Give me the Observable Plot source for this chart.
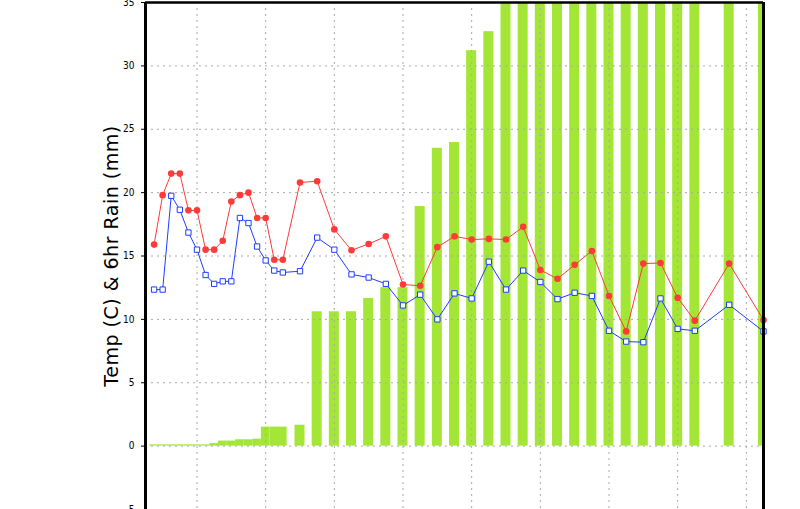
<!DOCTYPE html>
<html>
<head>
<meta charset="utf-8">
<script src="https://cdn.jsdelivr.net/npm/d3@7"></script>
<script src="https://cdn.jsdelivr.net/npm/@observablehq/plot@0.6"></script>
<style>
  html, body { margin: 0; padding: 0; background: #fff; }
  #chart svg { display: block; }
  #chart g[aria-label="text"] text { letter-spacing: 0.5px; }
</style>
</head>
<body>
<div id="chart"></div>
<script>
// Hours since start of the record
const hours = [3,6,9,12,15,18,21,24,27,30,33,36,39,42,45,48,
  54,60,66,72,78,84,90,96,102,108,114,120,126,132,138,144,150,156,162,168,174,180,186,192,
  204,216];
// Temperature (C) - red circles
const temp = [15.9,19.8,21.5,21.5,18.6,18.6,15.5,15.5,16.2,19.3,19.8,20.0,18.0,18.0,14.7,14.7,
  20.8,20.9,17.1,15.45,15.95,16.55,12.75,12.65,15.7,16.55,16.3,16.35,16.3,17.3,13.9,13.2,14.3,15.4,11.85,9.05,14.4,14.45,11.7,9.9,
  14.4,9.95];
// Dew point (C) - blue squares
const dew = [12.35,12.35,19.75,18.65,16.85,15.5,13.5,12.8,13.0,13.0,18.0,17.6,15.75,14.65,13.85,13.7,
  13.8,16.45,15.5,13.55,13.3,12.8,11.1,11.95,10.0,12.05,11.65,14.55,12.35,13.85,12.95,11.6,12.1,11.85,9.1,8.25,8.2,11.65,9.25,9.1,
  11.15,9.05];
// Rain (mm) - green bars (values above 35 run off the top of the chart)
const rain = [0.1,0.1,0.1,0.1,0.1,0.1,0.1,0.2,0.4,0.4,0.5,0.5,0.55,1.5,1.5,1.5,
  1.65,10.6,10.6,10.6,11.65,12.5,12.5,18.9,23.5,23.95,31.2,32.7,36.8,38.1,40.3,41.7,43.0,44.6,45.2,46.9,48.4,49.0,50.7,51.5,
  53.2,54.0];
const xDomain = [0, 216];
const yDomain = [-5, 35];
const yTicks = [-5, 0, 5, 10, 15, 20, 25, 30, 35];
const dayTicks = [18, 42, 66, 90, 114, 138, 162, 186, 210];
const yTitle = "Temp (C) & 6hr Rain (mm)";

const rows = hours.map((h, i) => ({h, temp: temp[i], dew: dew[i], rain: rain[i]}));
const halfW = d => (d.h <= 48 ? 1.5 : 1.75);

const RED = "#ff3a3a", BLUE = "#1f3dff", GREEN = "#a3e635", GRID = "#aaaaaa";

const chart = Plot.plot({
  width: 800,
  height: 509,
  marginLeft: 145,
  marginRight: 37,
  marginTop: 2,
  marginBottom: 0,
  style: {fontFamily: "'Liberation Sans Narrow', 'DejaVu Sans Condensed', 'Liberation Sans', sans-serif", fontSize: "10px", color: "#000", background: "#fff"},
  x: {domain: xDomain, axis: null},
  y: {domain: yDomain, ticks: yTicks, tickSize: 4, tickPadding: 7, label: null, tickFormat: d => String(d)},
  marks: [
    Plot.rectY(rows, {x1: d => d.h - halfW(d), x2: d => d.h + halfW(d), y1: 0, y2: "rain", fill: GREEN, clip: true}),
    Plot.ruleY(yTicks, {stroke: GRID, strokeWidth: 1, strokeDasharray: "2,4"}),
    Plot.ruleX(dayTicks, {stroke: GRID, strokeWidth: 1, strokeDasharray: "2,4"}),
    Plot.line(rows, {x: "h", y: "temp", stroke: RED, strokeWidth: 1}),
    Plot.line(rows, {x: "h", y: "dew", stroke: BLUE, strokeWidth: 1}),
    Plot.dot(rows, {x: "h", y: "temp", r: 3.3, fill: RED, stroke: "none"}),
    Plot.dot(rows, {x: "h", y: "dew", symbol: "square", r: 3, fill: "#fff", stroke: BLUE, strokeWidth: 1}),
    Plot.ruleX([xDomain[0]], {stroke: "#000", strokeWidth: 3}),
    Plot.ruleX([xDomain[1]], {stroke: "#000", strokeWidth: 3}),
    Plot.ruleY([yDomain[1]], {stroke: "#000", strokeWidth: 2.5}),
    Plot.text([yTitle], {text: d => d, frameAnchor: "left", textAnchor: "middle", lineAnchor: "middle", rotate: -90, dx: -34, fontSize: 19, fontFamily: "'DejaVu Sans', sans-serif", fill: "#000"})
  ]
});
document.getElementById("chart").appendChild(chart);
</script>
</body>
</html>
